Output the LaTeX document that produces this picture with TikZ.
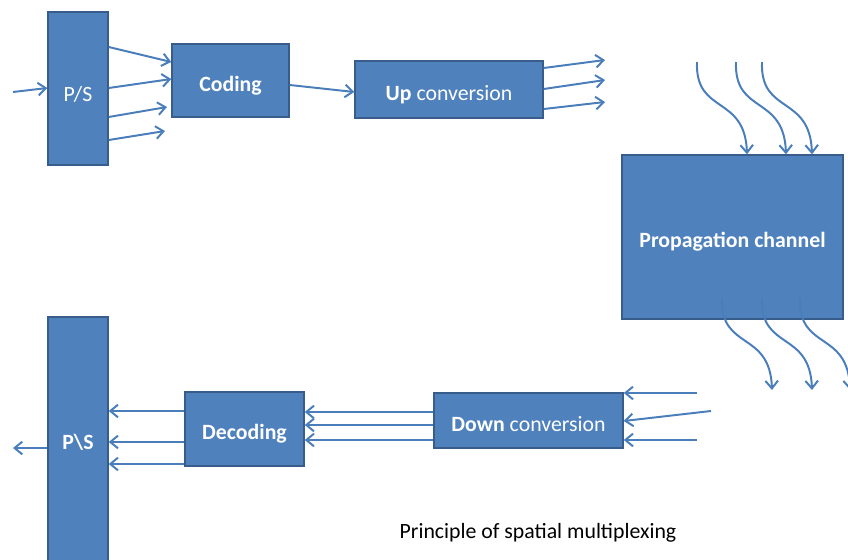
\documentclass[tikz,border=0pt]{standalone}
\usepackage{fontspec}
\setmainfont{Carlito}
\usetikzlibrary{arrows.meta}

\definecolor{boxfill}{HTML}{4F81BD}
\definecolor{boxline}{HTML}{385D8A}
\definecolor{wire}{HTML}{4A7EBB}

\tikzset{
  block/.style={draw=boxline, fill=boxfill, line width=1pt, text=white,
    font=\fontsize{15.5}{18}\selectfont, inner sep=0pt,
    text height=16pt, text depth=1pt},
  wirearrow/.style={draw=wire, line width=1.4pt,
    -{Straight Barb[length=5.5pt,width=9pt]}},
}

\begin{document}
\begin{tikzpicture}[x=0.025cm,y=-0.025cm] % pixel grid, y downwards
   \clip (0,0) rectangle (848,559);

   % transmitter
   \node[block, minimum width=1.5cm, minimum height=3.825cm,
         text height=19pt, text depth=0.3pt] (ps) at (78,88.5) {P/S};
   \node[block, minimum width=2.925cm, minimum height=1.825cm] (coding) at (230.5,80.5) {\textbf{Coding}};
   \node[block, minimum width=4.7cm, minimum height=1.425cm] (up) at (449,89.5) {\textbf{Up} conversion};

   % channel
   \node[block, minimum width=5.525cm, minimum height=4.1cm] (chan) at (732.5,237) {\textbf{Propagation channel}};

   % receiver
   \node[block, minimum width=4.725cm, minimum height=1.375cm] (down) at (528.5,420.5) {\textbf{Down} conversion};
   \node[block, minimum width=2.975cm, minimum height=1.85cm] (dec) at (244.5,429) {\textbf{Decoding}};
   \node[block, minimum width=1.5cm, minimum height=6.35cm,
         text height=11pt, text depth=2.9pt] (sp) at (78,444) {\textbf{P\textbackslash S}};

   \node[font=\fontsize{15.5}{18}\selectfont] (caption) at (538,533) {Principle of spatial multiplexing};

   % free ends
   \coordinate (txin) at (13,92);
   \coordinate (c3) at (167,107);
   \coordinate (c4) at (165,131);
   \coordinate (rxout) at (13,448);
   \coordinate (r1) at (697,393);
   \coordinate (r2) at (711,411);
   \coordinate (r3) at (697,440);

   \draw[wirearrow] (txin) -- (ps.west |- 0,88);
   \draw[wirearrow] (ps.east |- 0,47) -- (coding.west |- 0,62);
   \draw[wirearrow] (ps.east |- 0,88) -- (coding.west |- 0,79);
   \draw[wirearrow] (ps.east |- 0,117) -- (c3);
   \draw[wirearrow] (ps.east |- 0,140) -- (c4);
   \draw[wirearrow] (coding.east |- 0,85) -- (up.west |- 0,92);

   \foreach \y/\z/\n in {68/60/1, 89/80/2, 109/102/3} {
      \coordinate (ant\n) at (605,\z);
      \draw[wirearrow] (up.east |- 0,\y) -- (ant\n);
   }

   % paths through the channel
   \foreach \x/\n in {697/1, 736/2, 762/3} {
      \coordinate (src\n) at (\x,62);
      \draw[wirearrow] (src\n) .. controls +(-2,53) and +(-2,-60) .. (chan.north -| \x+50,0);
   }
   \foreach \x/\n in {722/1, 762/2, 800/3} {
      \coordinate (tail\n) at (\x,298);
      \coordinate (sink\n) at (\x+50,390);
      \draw[wirearrow] (tail\n) .. controls +(-2,53) and +(-2,-60) .. (sink\n);
   }

   \draw[wirearrow] (r1) -- (down.east |- 0,393);
   \draw[wirearrow] (r2) -- (down.east |- 0,421);
   \draw[wirearrow] (r3) -- (down.east |- 0,440);

   \draw[wirearrow] (down.west |- 0,412) -- (dec.east |- 0,412);
   \draw[wirearrow] (down.west |- 0,425) -- (dec.east |- 0,425);
   \draw[wirearrow] (down.west |- 0,440) -- (dec.east |- 0,440);

   \draw[wirearrow] (dec.west |- 0,411) -- (sp.east |- 0,411);
   \draw[wirearrow] (dec.west |- 0,442) -- (sp.east |- 0,442);
   \draw[wirearrow] (dec.west |- 0,464) -- (sp.east |- 0,464);
   \draw[wirearrow] (sp.west |- 0,448) -- (rxout);
\end{tikzpicture}
\end{document}
